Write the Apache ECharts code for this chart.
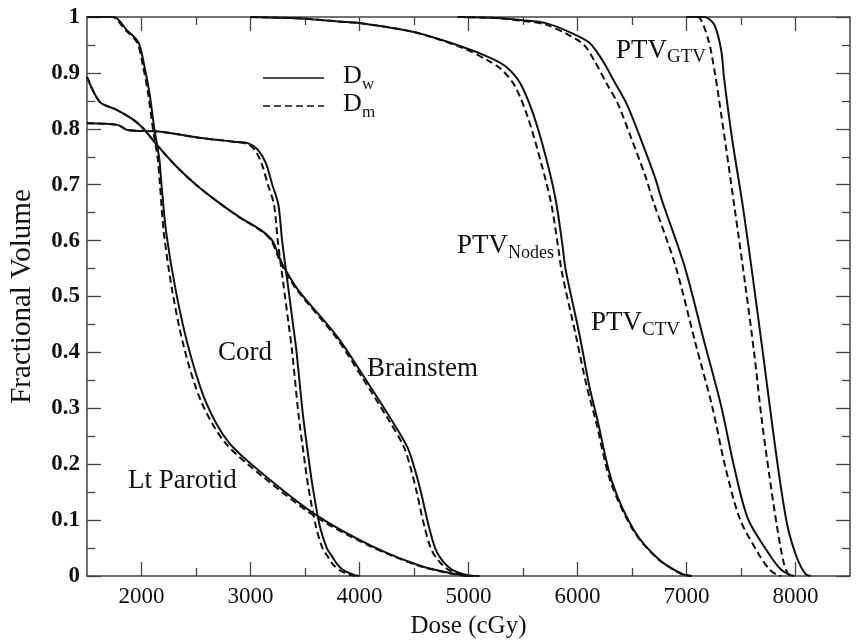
<!DOCTYPE html>
<html>
<head>
<meta charset="utf-8">
<script src="https://cdn.jsdelivr.net/npm/echarts@6/dist/echarts.min.js"></script>
<style>
  html, body { margin: 0; padding: 0; background: #fff; }
  #chart { width: 857px; height: 644px; }
</style>
</head>
<body>
<div id="chart"></div>
<script>
// Dose-volume histograms: dose in cGy, fractional volume 0..1
// Each structure: D_w (dose to water, solid) and D_m (dose to medium, dashed)

const gtvDw = [[7000,1.0],[7164,1.0],[7255,0.986],[7318,0.941],[7345,0.89],[7420,0.78],[7518,0.66],[7618,0.52],[7700,0.40],[7780,0.28],[7850,0.18],[7927,0.089],[8018,0.03],[8091,0.004],[8140,0]];
const gtvDm = [[7000,1.0],[7100,1.0],[7200,0.959],[7260,0.90],[7300,0.85],[7360,0.77],[7440,0.66],[7540,0.52],[7620,0.40],[7690,0.28],[7760,0.18],[7830,0.089],[7890,0.025],[7930,0.004],[7960,0]];

const ctvDw = [[4900,1.0],[5255,0.998],[5500,0.994],[5709,0.989],[5927,0.973],[6109,0.954],[6227,0.923],[6345,0.882],[6450,0.845],[6564,0.79],[6709,0.714],[6773,0.673],[6982,0.554],[7164,0.418],[7318,0.304],[7436,0.196],[7564,0.102],[7745,0.043],[7864,0.012],[7950,0.002],[7990,0]];
const ctvDm = [[4900,1.0],[5255,0.998],[5500,0.993],[5700,0.987],[5900,0.97],[6060,0.95],[6160,0.92],[6270,0.88],[6370,0.845],[6480,0.79],[6625,0.714],[6690,0.673],[6900,0.554],[7080,0.418],[7235,0.304],[7355,0.196],[7490,0.102],[7660,0.040],[7760,0.012],[7830,0.002],[7870,0]];

const nodesDw = [[3000,1.0],[3500,0.997],[3800,0.992],[4045,0.988],[4500,0.973],[4955,0.946],[5200,0.927],[5345,0.911],[5473,0.882],[5591,0.828],[5709,0.75],[5800,0.673],[5864,0.589],[5891,0.548],[6018,0.432],[6109,0.339],[6182,0.28],[6318,0.168],[6527,0.079],[6745,0.030],[6955,0.004],[7050,0]];
const nodesDm = [[3000,1.0],[3500,0.997],[3800,0.992],[4045,0.988],[4500,0.973],[4955,0.944],[5180,0.922],[5310,0.905],[5430,0.875],[5545,0.82],[5665,0.74],[5760,0.665],[5825,0.585],[5855,0.545],[5985,0.43],[6085,0.339],[6165,0.28],[6305,0.168],[6520,0.079],[6740,0.030],[6950,0.004],[7040,0]];

const brainstemDw = [[1500,0.893],[1618,0.848],[1773,0.834],[1927,0.816],[2018,0.80],[2155,0.768],[2318,0.733],[2500,0.70],[2709,0.668],[2900,0.642],[3109,0.617],[3200,0.60],[3255,0.575],[3300,0.555],[3436,0.512],[3800,0.427],[4045,0.355],[4291,0.28],[4436,0.232],[4500,0.196],[4564,0.15],[4636,0.089],[4709,0.043],[4836,0.013],[4982,0.002],[5100,0]];
const brainstemDm = [[1500,0.893],[1618,0.848],[1773,0.834],[1927,0.816],[2018,0.80],[2155,0.768],[2318,0.733],[2500,0.70],[2709,0.668],[2895,0.642],[3100,0.617],[3190,0.60],[3245,0.575],[3290,0.555],[3425,0.512],[3785,0.427],[4025,0.355],[4265,0.28],[4405,0.232],[4465,0.196],[4525,0.15],[4595,0.089],[4670,0.043],[4800,0.013],[4950,0.002],[5060,0]];

const cordDw = [[1500,0.81],[1780,0.807],[1870,0.798],[2160,0.795],[2530,0.784],[2840,0.777],[2980,0.774],[3070,0.762],[3140,0.739],[3200,0.70],[3255,0.665],[3290,0.60],[3340,0.525],[3390,0.45],[3420,0.405],[3480,0.29],[3530,0.215],[3570,0.16],[3636,0.089],[3700,0.05],[3745,0.036],[3800,0.02],[3864,0.009],[3950,0.002],[4000,0]];
const cordDm = [[1500,0.81],[1780,0.807],[1870,0.798],[2160,0.795],[2530,0.784],[2840,0.777],[2970,0.773],[3040,0.762],[3100,0.739],[3160,0.70],[3215,0.665],[3250,0.60],[3300,0.525],[3350,0.45],[3380,0.405],[3440,0.29],[3490,0.215],[3530,0.16],[3600,0.089],[3660,0.05],[3705,0.036],[3760,0.02],[3830,0.009],[3910,0.002],[3960,0]];

const parotidDw = [[1500,1.0],[1745,1.0],[1864,0.977],[1973,0.954],[2027,0.911],[2073,0.864],[2118,0.80],[2164,0.745],[2182,0.703],[2227,0.614],[2318,0.507],[2436,0.405],[2591,0.311],[2800,0.239],[3136,0.179],[3618,0.107],[4109,0.054],[4564,0.018],[4864,0.004],[5000,0]];
const parotidDm = [[1500,1.0],[1730,1.0],[1850,0.977],[1960,0.954],[2015,0.911],[2060,0.864],[2105,0.80],[2150,0.745],[2168,0.703],[2205,0.614],[2285,0.507],[2395,0.405],[2550,0.311],[2765,0.239],[3105,0.179],[3590,0.107],[4090,0.054],[4550,0.018],[4850,0.004],[4980,0]];

// Axis ticks
const xMajorTicks = [2000, 3000, 4000, 5000, 6000, 7000, 8000];
const xMinorTicks = [2500, 3500, 4500, 5500, 6500, 7500];

const FONT = '"Liberation Serif", "Times New Roman", serif';
const INK = '#111';
const FRAME = '#444';

const solidPairs = [gtvDw, ctvDw, nodesDw, brainstemDw, cordDw, parotidDw];
const dashedPairs = [gtvDm, ctvDm, nodesDm, brainstemDm, cordDm, parotidDm];

function curve(name, data, dashed) {
  return {
    name: name,
    type: 'line',
    data: data,
    xAxisIndex: 0,
    yAxisIndex: 0,
    showSymbol: false,
    symbol: 'none',
    smooth: 0.3,
    lineStyle: { color: INK, width: 2, type: dashed ? [7, 4] : 'solid' },
    z: dashed ? 3 : 4,
    silent: true
  };
}

const series = [];
solidPairs.forEach(d => series.push(curve('Dw', d, false)));
dashedPairs.forEach(d => series.push(curve('Dm', d, true)));

function xAxisDef(pos, ticks, len, labels) {
  return {
    type: 'value', gridIndex: 0, position: pos, min: 1500, max: 8500,
    axisLine: { show: labels, onZero: false, lineStyle: { color: FRAME, width: 1.5 } },
    axisTick: { show: true, inside: true, length: len, customValues: ticks, lineStyle: { color: FRAME, width: 1.3 } },
    axisLabel: labels ? {
      show: true, customValues: xMajorTicks, fontFamily: FONT, fontSize: 23, color: INK, margin: 9,
      formatter: v => String(Math.round(v))
    } : { show: false },
    splitLine: { show: false }
  };
}

function yAxisDef(pos, labels) {
  return {
    type: 'value', gridIndex: 0, position: pos, min: 0, max: 1, interval: 0.1,
    axisLine: { show: true, onZero: false, lineStyle: { color: FRAME, width: 1.5 } },
    axisTick: { show: true, inside: true, length: 14, lineStyle: { color: FRAME, width: 1.3 } },
    minorTick: { show: true, splitNumber: 2, length: 8, lineStyle: { color: FRAME, width: 1.3 } },
    axisLabel: labels ? {
      show: true, fontFamily: FONT, fontSize: 23, fontWeight: 'bold', color: INK, margin: 7,
      formatter: v => (Math.abs(v) < 1e-9 ? '0' : Math.abs(v - 1) < 1e-9 ? '1' : v.toFixed(1))
    } : { show: false },
    splitLine: { show: false },
    minorSplitLine: { show: false }
  };
}

const xAxes = [
  Object.assign(xAxisDef('bottom', xMajorTicks, 14, true), {
    name: 'Dose (cGy)', nameLocation: 'middle', nameGap: 38,
    nameTextStyle: { fontFamily: FONT, fontSize: 25, color: INK }
  }),
  xAxisDef('bottom', xMinorTicks, 8, false),
  xAxisDef('top', xMajorTicks, 14, true),
  xAxisDef('top', xMinorTicks, 8, false)
];
xAxes[2].axisLabel = { show: false };

const yAxes = [
  Object.assign(yAxisDef('left', true), {
    name: 'Fractional Volume', nameLocation: 'middle', nameRotate: 90, nameGap: 50,
    nameTextStyle: { fontFamily: FONT, fontSize: 29, color: INK }
  }),
  yAxisDef('right', false)
];

// Text annotations (main text + subscript)
function label(x, baseline, text, size, align) {
  return {
    type: 'text', x: x, y: baseline - 0.34 * size, silent: true,
    style: { text: text, font: size + 'px ' + FONT, fill: INK, align: align || 'left', verticalAlign: 'middle' }
  };
}

const graphics = [
  label(667, 60, 'PTV', 27, 'right'), label(667, 63, 'GTV', 19),
  label(508, 255, 'PTV', 27, 'right'), label(508, 259, 'Nodes', 18),
  label(642, 332, 'PTV', 27, 'right'), label(642, 336, 'CTV', 19),
  label(367, 378, 'Brainstem', 27),
  label(218, 362, 'Cord', 27),
  label(128, 490, 'Lt Parotid', 27),
  // key
  { type: 'line', silent: true, shape: { x1: 263, y1: 78, x2: 324, y2: 78 }, style: { stroke: INK, lineWidth: 1.6 } },
  { type: 'line', silent: true, shape: { x1: 263, y1: 106, x2: 324, y2: 106 }, style: { stroke: INK, lineWidth: 1.6, lineDash: [7, 4] } },
  label(343, 85, 'D', 26), label(362, 90, 'w', 17),
  label(343, 113, 'D', 26), label(362, 118, 'm', 17)
];

const chart = echarts.init(document.getElementById('chart'), null, { renderer: 'canvas' });
chart.setOption({
  animation: false,
  backgroundColor: '#fff',
  grid: { left: 80, top: 17, width: 770, height: 560, containLabel: false },
  xAxis: xAxes,
  yAxis: yAxes,
  series: series,
  graphic: graphics
});
</script>
</body>
</html>
